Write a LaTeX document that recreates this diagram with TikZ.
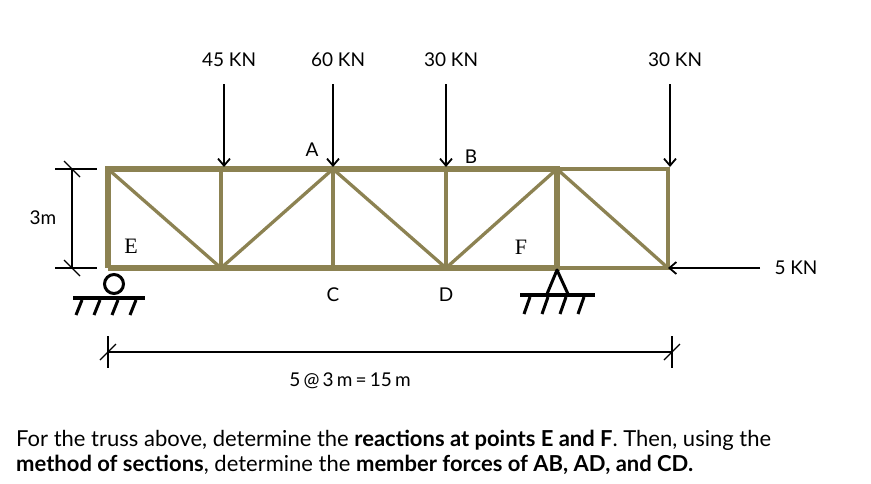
\documentclass[tikz,border=0pt]{standalone}
\usepackage{fontspec}
\setmainfont{Lato}
\newfontfamily\serifE{Liberation Serif}
\usetikzlibrary{arrows.meta}
\definecolor{olive}{RGB}{140,130,82}
\tikzset{
 thick member/.style={draw=olive,line width=5.5pt},
 thin member/.style={draw=olive,line width=3.3pt},
 load/.style={draw=black,line width=2.2pt,-{Straight Barb[length=7pt,width=12pt,line width=1.8pt]}},
 dim/.style={draw=black,line width=1.3pt},
 lbl/.style={font=\fontsize{19}{21}\selectfont},
 para/.style={font=\fontsize{22}{25}\selectfont},
 ser/.style={font=\serifE\fontsize{22}{24}\selectfont},
}
\begin{document}
\begin{tikzpicture}[x=1pt,y=-1pt]
\useasboundingbox (0,0) rectangle (871,483);
\coordinate (T0) at (108,169);\coordinate (T1) at (221,169);\coordinate (T2) at (333,169);
\coordinate (T3) at (446,169);\coordinate (T4) at (557,169);\coordinate (T5) at (668,169);
\coordinate (B0) at (108,268);\coordinate (B1) at (221,268);\coordinate (B2) at (333,268);
\coordinate (B3) at (446,268);\coordinate (B4) at (557,268);\coordinate (B5) at (668,268);
% members
\draw[thin member] (T1)--(B1) (T2)--(B2) (T3)--(B3) (T4)--(T5)--(B5)--(B4);
\draw[thin member] (T0)--(B1)--(T2)--(B3)--(T4)--(B5);
\draw[thick member] (B0)--(T0)--(T4)--(B4)--(B0);
% loads
\foreach \x/\t/\n in {224/45 KN/l1,333/60 KN/l2,446/30 KN/l3,670/30 KN/l4}{
 \node[lbl] (\n) at (\x+5,60) {\t};
 \coordinate (\n s) at (\x,84);\coordinate (\n e) at (\x,167);
 \draw[load] (\n s)--(\n e);
}
\coordinate (h5) at (760,268);
\draw[load] (h5)--(B5);
\node[lbl] (k5) at (796,268) {5 KN};
% letters
\node[lbl] (A) at (312,150) {A};
\node[lbl] (B) at (471,157) {B};
\node[lbl] (C) at (333,295) {C};
\node[lbl] (D) at (446,295) {D};
\node[ser] (E) at (131,246) {E};
\node[ser] (F) at (521,247) {F};
% roller
\draw[line width=3pt] (114,284) circle (9.5);
\draw[line width=4pt] (73,298)--(145,298);
\foreach \x in {82,100,118,136}{\draw[line width=3pt] (\x,300)--(\x-6,315);}
% pin
\draw[line width=3pt,line join=round] (547,294)--(557,270)--(568,294);
\draw[line width=4pt] (520,295)--(595,295);
\foreach \x in {530,548,566,584}{\draw[line width=3pt] (\x,297)--(\x-6,314);}
% 3m dimension
\draw[dim] (72,169)--(72,268) (55,169)--(97,169) (55,268)--(97,268);
\draw[dim] (64,161)--(80,177) (64,260)--(80,276);
\node[lbl] (h3) at (43,218) {3m};
% bottom dimension
\draw[dim] (108,352)--(672,352) (108,336)--(108,368) (672,336)--(672,368);
\draw[dim] (100,360)--(116,344) (664,360)--(680,344);
\node[lbl] (span) at (350,381) {5\,@\,3\,m\,=\,15\,m};
% text
\node[para,anchor=west,inner sep=0] (q1) at (16,440) {For the truss above, determine the \textbf{reactions at points E and F}. Then, using the};
\node[para,anchor=west,inner sep=0] (q2) at (16,465) {\textbf{method of sections}, determine the \textbf{member forces of AB, AD, and CD.}};
\end{tikzpicture}
\end{document}
